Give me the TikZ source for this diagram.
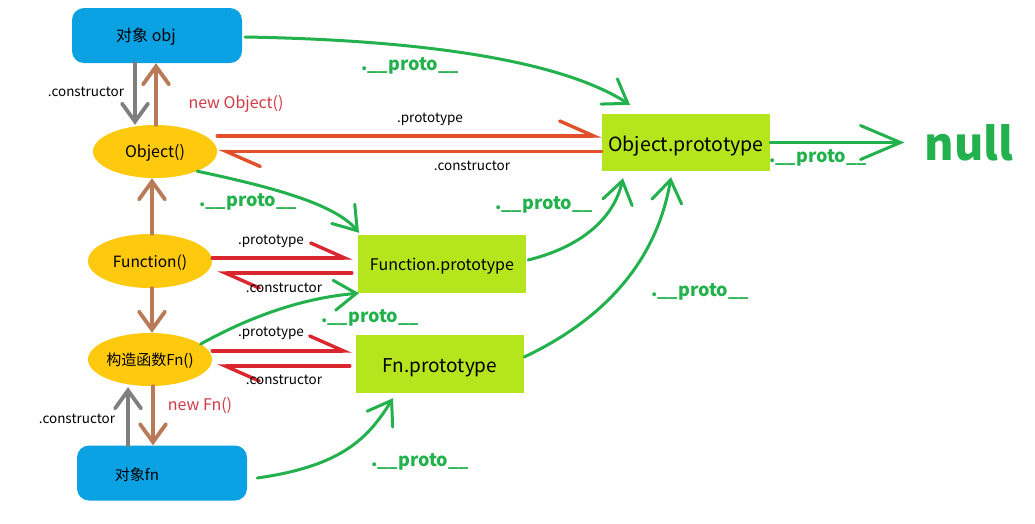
\documentclass[tikz,border=0pt]{standalone}
\usepackage{fontspec}
\setmainfont{Noto Sans CJK SC}
\usetikzlibrary{arrows.meta,shapes.geometric,calc}
\definecolor{cblue}{HTML}{0BA2E4}
\definecolor{cgold}{HTML}{FFC90E}
\definecolor{clime}{HTML}{B5E61D}
\definecolor{cgreen}{HTML}{22B14C}
\definecolor{cred}{HTML}{D9262F}
\definecolor{ctred}{HTML}{D33A45}
\definecolor{corange}{HTML}{E1502A}
\definecolor{cbrown}{HTML}{B97A57}
\definecolor{cgray}{HTML}{7F7F7F}
\newcommand\fsz[1]{\fontsize{#1}{#1}\selectfont}
\newcommand\shiftdn[2]{\raisebox{-#1}[\height][\depth]{#2}}
\begin{document}
\begin{tikzpicture}[x=1pt,y=-1pt,
  objbox/.style={rectangle,rounded corners=12pt,fill=cblue,minimum width=170pt,minimum height=55pt,inner sep=0pt,font=\fsz{16pt}},
  fnell/.style={ellipse,fill=cgold,minimum width=124pt,minimum height=53pt,inner sep=0pt,font=\fsz{15.5pt}},
  protobox/.style={rectangle,fill=clime,minimum width=168pt,minimum height=57pt,inner sep=0pt,font=\fsz{19.5pt}},
  smalllbl/.style={font=\fsz{13.5pt},inner sep=0pt},
  redlbl/.style={font=\fsz{16pt},text=ctred,inner sep=0pt},
  protolbl/.style={font=\bfseries\fsz{18pt},text=cgreen,inner sep=0pt},
  vert/.style={line width=3.8pt,line cap=round,-{Straight Barb[length=18pt,width=26pt,line cap=round]}},
  harp/.style={line width=3.4pt,line cap=round,-{Straight Barb[harpoon,length=34pt,width=30pt,line cap=round]}},
  grn/.style={line width=3pt,line cap=round,draw=cgreen,-{Straight Barb[length=22pt,width=30pt,line cap=round]}}
]
\useasboundingbox[fill=white] (0,0) rectangle (1035,523);
% nodes
\node[objbox] (obj) at (157,35.5) {\hspace*{-22pt}\shiftdn{1.5pt}{对象 obj}};
\node[fnell,font=\fsz{16pt}] (O) at (155,151.5) {\shiftdn{1pt}{Object()}};
\node[fnell,minimum height=54pt] (F) at (150,261) {\shiftdn{1.5pt}{Function()}};
\node[fnell,font=\fsz{15pt}] (Fn) at (150,359.5) {\shiftdn{1.5pt}{构造函数Fn()}};
\node[objbox,font=\fsz{15pt}] (fnbox) at (162,473) {\hspace*{-50pt}\shiftdn{2pt}{对象fn}};
\node[protobox] (OP) at (686,142.5) {\shiftdn{4pt}{Object.prototype}};
\node[protobox,minimum height=58pt,font=\fsz{16pt}] (FP) at (442,264) {\shiftdn{2pt}{Function.prototype}};
\node[protobox,minimum height=58pt,font=\fsz{19pt}] (FnP) at (440,364) {\shiftdn{4pt}{Fn.prototype}};
\node[font=\bfseries\fsz{45pt},text=cgreen,inner sep=0pt] (nul) at (969,143) {null};
% vertical arrows
\draw[vert,cgray] ([xshift=-22pt]obj.south) -- ([xshift=-22pt]obj.south |- O.north);
\draw[vert,cbrown] ([xshift=1pt]O.north) -- ([xshift=1pt]O.north |- obj.south);
\draw[vert,cbrown] ([xshift=2pt]F.north) -- ([xshift=2pt]F.north |- O.south);
\draw[vert,cbrown] ([xshift=2pt]F.south) -- ([xshift=2pt]F.south |- Fn.north);
\draw[vert,cgray] ([xshift=-34pt]fnbox.north) -- ([xshift=-34pt,yshift=-1pt]fnbox.north |- Fn.south);
\draw[vert,cbrown] ([xshift=3pt]Fn.south) -- ([xshift=3pt]Fn.south |- fnbox.north);
% prototype / constructor pairs
\draw[harp,corange] ([yshift=15.5pt]O.east) -- ([yshift=15.5pt]O.east -| OP.west);
\draw[harp,corange] (O.east -| OP.west) -- ([xshift=1pt]O.east);
\draw[harp,cred,shorten >=5pt] ([yshift=3pt]F.east) -- ([yshift=3pt]F.east -| FP.west);
\draw[harp,cred] ([xshift=-6pt,yshift=-12pt]F.east -| FP.west) -- ([xshift=5pt,yshift=-12pt]F.east);
\draw[harp,cred,shorten >=4pt] ([yshift=8.5pt]Fn.east) -- ([yshift=8.5pt]Fn.east -| FnP.west);
\draw[harp,cred] ([xshift=-6pt,yshift=-6.5pt]Fn.east -| FnP.west) -- ([xshift=5pt,yshift=-6.5pt]Fn.east);
% proto curves
\draw[grn] ([xshift=3pt,yshift=-1.5pt]obj.east) .. controls +(175,3) and +(-70,-45) .. ([xshift=-56pt,yshift=9pt]OP.north);
\draw[grn] (O.-25) .. controls +(70,15) and +(-25,-30) .. ([xshift=-83pt,yshift=2pt]FP.north);
\draw[grn] ([xshift=2pt,yshift=4pt]FP.east) .. controls +(60,-15) and +(-8,35) .. ([xshift=-63pt,yshift=-7pt]OP.south);
\draw[grn] (Fn.17) .. controls +(45,-25) and +(-60,5) .. ([xshift=-83pt]FP.south);
\draw[grn] ([yshift=7pt]FnP.east) .. controls +(95,-45) and +(-12,70) .. ([xshift=-15pt,yshift=-6pt]OP.south);
\draw[grn] ([xshift=10pt,yshift=-5pt]fnbox.east) .. controls +(85,-12) and +(-25,40) .. ([xshift=-47pt,yshift=-5pt]FnP.south);
\draw[line width=3pt,line cap=round,draw=cgreen,-{Straight Barb[length=40pt,width=34pt,line cap=round]}] (OP.east) -- ([xshift=-20pt]OP.east -| nul.west);
% labels
\node[smalllbl] (c1) at (86,92) {.constructor};
\node[redlbl] (n1) at (236,104) {new Object()};
\node[smalllbl] (p1) at (430,119) {.prototype};
\node[smalllbl] (c2) at (472,166) {.constructor};
\node[smalllbl] (p2) at (271,241) {.prototype};
\node[smalllbl] (c3) at (284,288) {.constructor};
\node[smalllbl] (p3) at (271,333) {.prototype};
\node[smalllbl] (c4) at (284,380) {.constructor};
\node[smalllbl] (c5) at (77,419) {.constructor};
\node[redlbl] (n2) at (200,406) {new Fn()};
\node[protolbl] (g1) at (410,66) {.\_\_proto\_\_};
\node[protolbl] (g2) at (248,202) {.\_\_proto\_\_};
\node[protolbl] (g3) at (544,205) {.\_\_proto\_\_};
\node[protolbl] (g4) at (370,318) {.\_\_proto\_\_};
\node[protolbl] (g5) at (700,292) {.\_\_proto\_\_};
\node[protolbl] (g6) at (420,462) {.\_\_proto\_\_};
\node[protolbl] (g7) at (818,158) {.\_\_proto\_\_};
\end{tikzpicture}
\end{document}
